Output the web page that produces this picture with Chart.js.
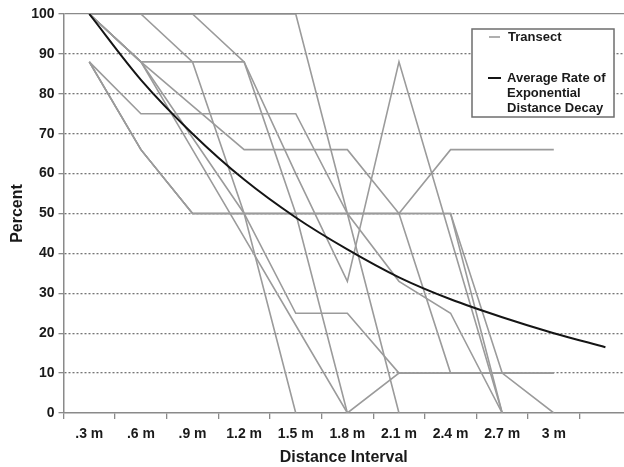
<!DOCTYPE html>
<html>
<head>
<meta charset="utf-8">
<script src="https://cdn.jsdelivr.net/npm/chart.js@4.4.1/dist/chart.umd.min.js"></script>
<style>
  html, body { margin: 0; padding: 0; background: #fff; overflow: hidden; }
  #wrap { width: 624px; height: 467px; position: relative; }
</style>
</head>
<body>
<div id="wrap"><canvas id="c" width="624" height="467"></canvas></div>
<script>
// Category labels (last slot is unlabeled; only the decay curve reaches it)
const xLabels = ['.3 m', '.6 m', '.9 m', '1.2 m', '1.5 m', '1.8 m', '2.1 m', '2.4 m', '2.7 m', '3 m', ''];
const yTickValues = [0, 10, 20, 30, 40, 50, 60, 70, 80, 90, 100];

// Transect percentages at each distance interval
const transect1 = [100, 88, 77, 66, 66, 66, 50, 66, 66, 66];
const transect2 = [88, 75, 75, 75, 75, 50, 33, 25, 0];
const transect3 = [88, 66, 50, 50, 50, 50, 50, 50, 10, 0];
const transect4 = [100, 100, 88, 50, 0];
const transect5 = [100, 88, 88, 88, 50, 0, 10, 10, 10, 10];
const transect6 = [100, 100, 100, 88, 60, 33, 88, 44, 0];
const transect7 = [100, 100, 100, 100, 100, 50, 0];
const transect8 = [100, 88, 69, 50, 25, 25, 10, 10, 10, 10];
const transect9 = [88, 66, 50, 50, 50, 50, 50, 50, 0];
const transect10 = [88, 66, 50, 50, 50, 50, 50, 10, 10];
const transect11 = [100, 88, 66, 44, 22, 0];

// Average rate of exponential distance decay
const decay = [100, 83.5, 70, 58.5, 49, 41, 34, 28.5, 24, 20, 16.5];

const transects = [transect1, transect2, transect3, transect4, transect5, transect6,
                   transect7, transect8, transect9, transect10, transect11];

const toPoints = arr => arr.map((v, i) => ({ x: i, y: v }));

const GRAY = '#9b9b9b';
const FONT = '"Liberation Sans", Arial, sans-serif';
const datasets = transects.map((t) => ({
  label: 'Transect',
  data: toPoints(t),
  borderColor: GRAY,
  borderWidth: 1.6,
  pointRadius: 0,
  tension: 0,
  spanGaps: false,
  order: 2
}));
datasets.push({
  label: 'Average Rate of Exponential Distance Decay',
  data: toPoints(decay),
  borderColor: '#151515',
  borderWidth: 2,
  pointRadius: 0,
  tension: 0.4,
  cubicInterpolationMode: 'monotone',
  order: 1
});

const legendPlugin = {
  id: 'boxLegend',
  afterDraw(chart) {
    const ctx = chart.ctx;
    const x = 472, y = 29, w = 142, h = 88;
    ctx.save();
    ctx.fillStyle = '#fff';
    ctx.fillRect(x, y, w, h);
    ctx.strokeStyle = '#6e6e6e';
    ctx.lineWidth = 1.5;
    ctx.strokeRect(x, y, w, h);
    ctx.font = 'bold 13px ' + FONT;
    ctx.textBaseline = 'middle';
    ctx.fillStyle = '#1a1a1a';
    ctx.strokeStyle = GRAY; ctx.lineWidth = 1.6;
    ctx.beginPath(); ctx.moveTo(489, 37); ctx.lineTo(500, 37); ctx.stroke();
    ctx.fillText('Transect', 508, 37);
    ctx.strokeStyle = '#151515'; ctx.lineWidth = 2;
    ctx.beginPath(); ctx.moveTo(488, 78); ctx.lineTo(501, 78); ctx.stroke();
    ctx.fillText('Average Rate of', 507, 78);
    ctx.fillText('Exponential', 507, 93);
    ctx.fillText('Distance Decay', 507, 108);
    ctx.restore();
  }
};

new Chart(document.getElementById('c'), {
  type: 'line',
  data: { datasets },
  plugins: [legendPlugin],
  options: {
    responsive: false,
    animation: false,
    events: [],
    layout: { padding: { top: 14, right: 0, left: 0, bottom: 0 } },
    plugins: { legend: { display: false }, tooltip: { enabled: false } },
    scales: {
      x: {
        type: 'linear',
        min: -0.5,
        max: 10.36,
        afterBuildTicks(scale) {
          scale.ticks = xLabels.map((l, i) => ({ value: i }));
        },
        afterFit(scale) { scale.height = 54; },
        grid: { offset: true, drawOnChartArea: false, drawTicks: true, tickLength: 6, color: '#8a8a8a', lineWidth: 1.3 },
        border: { display: true, color: '#8a8a8a', width: 1.5 },
        ticks: {
          autoSkip: false, maxRotation: 0, padding: 7,
          color: '#1a1a1a',
          font: { family: FONT, size: 14, weight: 'bold' },
          callback: (v) => xLabels[v] !== undefined ? xLabels[v] : ''
        },
        title: {
          display: true, text: 'Distance Interval', color: '#1a1a1a',
          font: { family: FONT, size: 16, weight: 'bold' },
          padding: { top: 2, bottom: 0 }
        }
      },
      y: {
        min: 0, max: 100,
        afterBuildTicks(scale) {
          scale.ticks = yTickValues.map(v => ({ value: v }));
        },
        afterFit(scale) { scale.width = 63.5; },
        grid: {
          drawTicks: true, tickLength: 5, lineWidth: 1.3,
          color: (c) => (c.tick && c.tick.value === 0) ? 'rgba(0,0,0,0)' : (c.tick && c.tick.value === 100 ? '#8a8a8a' : '#767676'),
          tickColor: '#8a8a8a'
        },
        border: {
          display: true, color: '#8a8a8a', width: 1.5,
          dash: (c) => (c.tick && c.tick.value !== 100) ? [2, 2] : []
        },
        ticks: {
          padding: 4, color: '#1a1a1a',
          font: { family: FONT, size: 14, weight: 'bold' }
        },
        title: {
          display: true, text: 'Percent', color: '#1a1a1a',
          font: { family: FONT, size: 16, weight: 'bold' },
          padding: { top: 8, bottom: 2 }
        }
      }
    }
  }
});
</script>
</body>
</html>
